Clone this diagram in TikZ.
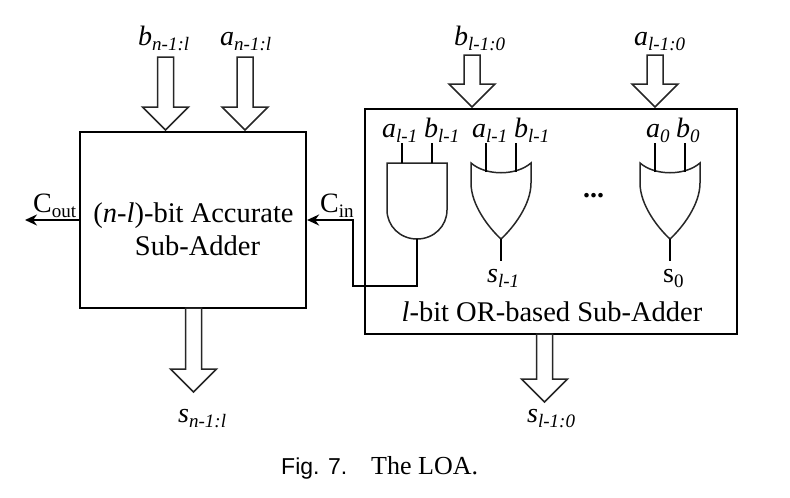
\documentclass[tikz,border=0pt]{standalone}
\usepackage{fontspec}
\setmainfont{Liberation Serif}
\newfontfamily\capsans{Liberation Sans}
\usetikzlibrary{arrows.meta}
\newcommand{\subfont}{\fontsize{19}{19}\selectfont}
\newcommand{\lab}[2]{\textit{#1}\raisebox{-0.2em}{\subfont\textit{#2}}}
\newcommand{\labr}[2]{#1\raisebox{-0.2em}{\subfont #2}}
\tikzset{
	andgate/.pic={
		\draw[gateline] (-30,0) -- (30,0) -- (30,47) .. controls (30,63) and (17,76) .. (0,76) .. controls (-17,76) and (-30,63) .. (-30,47) -- cycle;
		\coordinate (-ina) at (-15,0);
		\coordinate (-inb) at (15,0);
		\coordinate (-out) at (0,76);
	},
	orgate/.pic={
		\draw[gateline] (-30,0) .. controls (-15,13) and (15,13) .. (30,0) -- (30,20) .. controls (30,42) and (12,65) .. (0,76) .. controls (-12,65) and (-30,42) .. (-30,20) -- cycle;
		\coordinate (-ina) at (-15,9);
		\coordinate (-inb) at (15,9);
		\coordinate (-out) at (0,76);
	}
}
\begin{document}
\begin{tikzpicture}[x=1pt,y=-1pt]
	\tikzset{gateline/.style={line width=1.5pt,black!85},
		wire/.style={line width=2pt,black},
		fleche/.style={line width=2pt,black,-{Stealth[length=12pt,width=11pt]}},
		bloc/.style={draw,line width=2.2pt,inner sep=0},
		lab/.style={anchor=base west,inner sep=0,font=\fontsize{28}{30}\selectfont},
		txt/.style={inner sep=0,align=center,font=\fontsize{28.5}{33}\selectfont}};
	\useasboundingbox (0,0) rectangle (790,498);
	\node [bloc,minimum width=226pt,minimum height=176pt] (leftbox) at (193,220) {};
	\node [bloc,minimum width=372pt,minimum height=225pt] (rightbox) at (551,221.5) {};
	\node [txt] (lefttext) at (193.5,229) {(\textit{n-l})-bit Accurate\\\hspace*{8pt}Sub-Adder};
	\node [txt] (righttext) at (552,312) {\textit{l}-bit OR-based Sub-Adder};
	\foreach \cx/\ytop/\ybase/\ytip in {165.5/57/107/130,245/57/107/130,472/55/84/107,655/55/84/107,193.5/308/369/392,544.5/334/379/402}
		\draw[gateline] (\cx-8,\ytop) -- (\cx-8,\ybase) -- (\cx-23,\ybase) -- (\cx,\ytip) -- (\cx+23,\ybase) -- (\cx+8,\ybase) -- (\cx+8,\ytop) -- cycle;
	\pic (gateA) at (417,163) {andgate};
	\pic (gateB) at (501,163) {orgate};
	\pic (gateC) at (670,163) {orgate};
	\foreach \g in {gateA,gateB,gateC} {
		\draw[wire] (\g-ina) -- (\g-ina |- 0,143);
		\draw[wire] (\g-inb) -- (\g-inb |- 0,143);
	}
	\draw[wire] (gateB-out) -- ++(0,22);
	\draw[wire] (gateC-out) -- ++(0,22);
	\coordinate (carrybend) at (353,286);
	\draw[fleche] (gateA-out) |- (carrybend) |- (leftbox.east);
	\coordinate (coutend) at (25,220);
	\draw[fleche] (leftbox.west) -- (coutend);
	\node [lab] (labbn) at (138,45) {\lab{b}{n-1:l}};
	\node [lab] (laban) at (220,45) {\lab{a}{n-1:l}};
	\node [lab] (labbl) at (454,45) {\lab{b}{l-1:0}};
	\node [lab] (labal) at (634,45) {\lab{a}{l-1:0}};
	\node [lab] (laba1) at (382,137) {\lab{a}{l-1}};
	\node [lab] (labb1) at (424,137) {\lab{b}{l-1}};
	\node [lab] (laba2) at (472,137) {\lab{a}{l-1}};
	\node [lab] (labb2) at (514,137) {\lab{b}{l-1}};
	\node [lab] (laba3) at (646,137) {\lab{a}{0}};
	\node [lab] (labb3) at (676,137) {\lab{b}{0}};
	\node [lab] (labs1) at (487,282) {\lab{s}{l-1}};
	\node [lab] (labs0) at (663,282) {\labr{s}{0}};
	\node [lab] (labsn) at (178,422) {\lab{s}{n-1:l}};
	\node [lab] (labsl) at (527,422) {\lab{s}{l-1:0}};
	\node [lab] (labcout) at (33,212) {\labr{C}{out}};
	\node [lab] (labcin) at (320,212) {\labr{C}{in}};
	\node [lab] (dots) at (583,197) {\textbf{...}};
	\node [anchor=base west,inner sep=0,font=\capsans\fontsize{23}{24}\selectfont] (capfig) at (281,474) {Fig. 7.};
	\node [anchor=base west,inner sep=0,font=\fontsize{26}{27}\selectfont] (captext) at (371,474) {The LOA.};
\end{tikzpicture}
\end{document}
